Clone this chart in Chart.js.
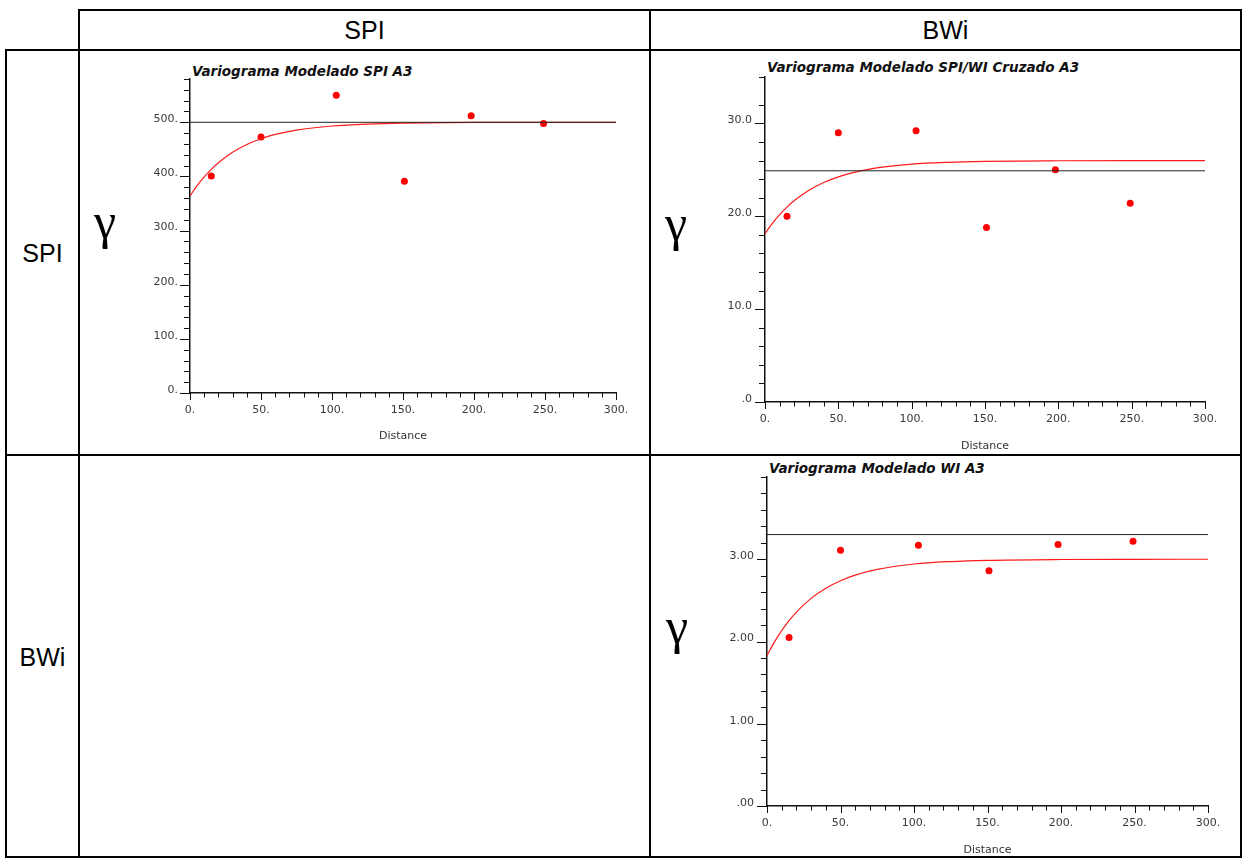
<!DOCTYPE html>
<html>
<head>
<meta charset="utf-8">
<script src="https://cdn.jsdelivr.net/npm/chart.js@4/dist/chart.umd.min.js"></script>
<style>
  body { margin: 0; background: #fff; width: 1243px; height: 859px; position: relative; overflow: hidden; font-family: "Liberation Sans", Arial, sans-serif; }
  .ln { position: absolute; background: #000; }
  .head { position: absolute; font-size: 25px; color: #000; text-align: center; line-height: 28px; }
  .title { position: absolute; font-family: "DejaVu Sans", sans-serif; font-weight: bold; font-style: italic; font-size: 13.5px; line-height: 16px; color: #111; white-space: nowrap; }
  .gamma { position: absolute; font-family: "Liberation Serif", "DejaVu Serif", serif; font-size: 50px; line-height: 50px; color: #000; }
  canvas { position: absolute; }
</style>
</head>
<body>
<!-- table rules -->
<div class="ln" style="left:79px;top:9px;width:1163px;height:2px"></div>
<div class="ln" style="left:5px;top:49px;width:1237px;height:2px"></div>
<div class="ln" style="left:5px;top:454px;width:1237px;height:2px"></div>
<div class="ln" style="left:5px;top:856px;width:1237px;height:2px"></div>
<div class="ln" style="left:5px;top:49px;width:2px;height:809px"></div>
<div class="ln" style="left:78px;top:9px;width:2px;height:849px"></div>
<div class="ln" style="left:649px;top:9px;width:2px;height:849px"></div>
<div class="ln" style="left:1240px;top:9px;width:2px;height:849px"></div>

<div class="head" style="left:80px;width:569px;top:16px">SPI</div>
<div class="head" style="left:651px;width:589px;top:16px">BWi</div>
<div class="head" style="left:7px;width:71px;top:239px">SPI</div>
<div class="head" style="left:7px;width:71px;top:643px">BWi</div>

<div class="title" style="left:192px;top:63px">Variograma Modelado SPI A3</div>
<div class="title" style="left:767px;top:59px">Variograma Modelado SPI/WI Cruzado A3</div>
<div class="title" style="left:769px;top:460px">Variograma Modelado WI A3</div>

<div class="gamma" style="left:94px;top:196px">γ</div>
<div class="gamma" style="left:665px;top:198px">γ</div>
<div class="gamma" style="left:666px;top:601px">γ</div>

<canvas id="c1" width="500" height="370" style="left:130px;top:75px"></canvas>
<canvas id="c2" width="515" height="380" style="left:705px;top:72px"></canvas>
<canvas id="c3" width="515" height="384" style="left:707px;top:472px"></canvas>

<script>
// experimental variogram lags (distance)
const lags = [15, 50, 103, 151, 198, 249];
const spiGamma = [401, 473, 550, 391, 512, 498];
const crossGamma = [20.0, 29.0, 29.2, 18.8, 25.0, 21.4];
const wiGamma = [2.05, 3.11, 3.17, 2.86, 3.18, 3.22];

// fitted model curves
const modelLags = [0, 5, 10, 15, 20, 30, 40, 50, 60, 75, 100, 125, 150, 200, 250, 300];
const spiModel = [364, 382.9, 399.2, 413.2, 425.4, 444.7, 459.1, 469.7, 477.6, 485.7, 493.2, 496.8, 498.5, 499.7, 499.9, 500];
const crossModel = [18.15, 19.24, 20.18, 20.99, 21.69, 22.81, 23.64, 24.25, 24.70, 25.18, 25.61, 25.81, 25.91, 25.98, 26.0, 26.0];
const wiModel = [1.83, 1.993, 2.133, 2.254, 2.358, 2.524, 2.648, 2.739, 2.807, 2.877, 2.942, 2.972, 2.987, 2.997, 2.999, 3.0];

// sample variance (horizontal reference line)
const spiSill = 500;
const crossSill = 24.9;
const wiSill = 3.30;

const xTicks = [0, 50, 100, 150, 200, 250, 300];

const tickMarks = {
    id: 'tickMarks',
    afterDraw(chart) {
        const {ctx, chartArea: a, scales: {x, y}} = chart;
        ctx.save();
        ctx.strokeStyle = '#111';
        ctx.lineWidth = 1;
        ctx.beginPath();
        x.ticks.forEach(t => {
            const px = Math.round(x.getPixelForValue(t.value)) + 0.5;
            ctx.moveTo(px, a.bottom);
            ctx.lineTo(px, a.bottom + (t.label ? 7 : 4.5));
        });
        y.ticks.forEach(t => {
            const py = Math.round(y.getPixelForValue(t.value)) + 0.5;
            ctx.moveTo(a.left, py);
            ctx.lineTo(a.left - (t.label ? 10 : 6), py);
        });
        ctx.stroke();
        ctx.restore();
    }
};

function makeChart(id, o) {
    const tickFont = {family: 'DejaVu Sans', size: 11};
    return new Chart(document.getElementById(id), {
        type: 'scatter',
        data: {
            datasets: [
                {
                    type: 'line',
                    data: [{x: 0, y: o.sill}, {x: 300, y: o.sill}],
                    borderColor: '#222', borderWidth: 1, pointRadius: 0
                },
                {
                    type: 'line',
                    data: modelLags.map((h, i) => ({x: h, y: o.model[i]})),
                    borderColor: '#ff1a1a', borderWidth: 1.2, pointRadius: 0,
                    cubicInterpolationMode: 'monotone'
                },
                {
                    data: lags.map((h, i) => ({x: h, y: o.points[i]})),
                    backgroundColor: '#ff0000', borderWidth: 0, pointRadius: 3.5
                }
            ]
        },
        options: {
            responsive: false,
            animation: false,
            events: [],
            layout: {padding: {top: o.padTop, right: o.padRight, left: 0, bottom: 0}},
            plugins: {legend: {display: false}, tooltip: {enabled: false}},
            scales: {
                x: {
                    type: 'linear', min: 0, max: 300,
                    afterFit: s => { s.height = o.xHeight; s.paddingLeft = 0; s.paddingRight = 0; },
                    grid: {drawOnChartArea: false, drawTicks: false},
                    border: {display: true, color: '#111', width: 1.5},
                    ticks: {
                        stepSize: 10, autoSkip: false, maxRotation: 0, padding: 11,
                        color: '#3a3a3a', font: tickFont,
                        callback: v => xTicks.includes(v) ? v + '.' : ''
                    },
                    title: {
                        display: true, text: 'Distance', color: '#333',
                        font: {family: 'DejaVu Sans', size: 11, lineHeight: 1},
                        padding: {top: 0, bottom: o.titlePad}
                    }
                },
                y: {
                    type: 'linear', min: 0, max: o.yMax,
                    afterFit: s => { s.width = 60; s.paddingTop = 0; s.paddingBottom = 0; },
                    grid: {drawOnChartArea: false, drawTicks: false},
                    border: {display: true, color: '#111', width: 1.5},
                    ticks: {
                        stepSize: o.yStep, autoSkip: false, padding: o.yPad, labelOffset: -3,
                        color: '#3a3a3a', font: tickFont,
                        callback: v => o.yLabels.includes(Math.round(v * 1000) / 1000) ? o.fmt(v) : ''
                    }
                }
            }
        },
        plugins: [tickMarks]
    });
}

makeChart('c1', {
    points: spiGamma, model: spiModel, sill: spiSill,
    yMax: 580, yStep: 20, yLabels: [0, 100, 200, 300, 400, 500],
    fmt: v => v + '.', yPad: 12,
    padTop: 4, padRight: 14, xHeight: 52, titlePad: 3.5
});

makeChart('c2', {
    points: crossGamma, model: crossModel, sill: crossSill,
    yMax: 35, yStep: 2, yLabels: [0, 10, 20, 30],
    fmt: v => v === 0 ? '.0' : v.toFixed(1), yPad: 13,
    padTop: 5, padRight: 15, xHeight: 50, titlePad: 0
});

makeChart('c3', {
    points: wiGamma, model: wiModel, sill: wiSill,
    yMax: 4, yStep: 0.2, yLabels: [0, 1, 2, 3],
    fmt: v => v === 0 ? '.00' : v.toFixed(2), yPad: 13,
    padTop: 5, padRight: 14, xHeight: 50, titlePad: 0
});
</script>
</body>
</html>
